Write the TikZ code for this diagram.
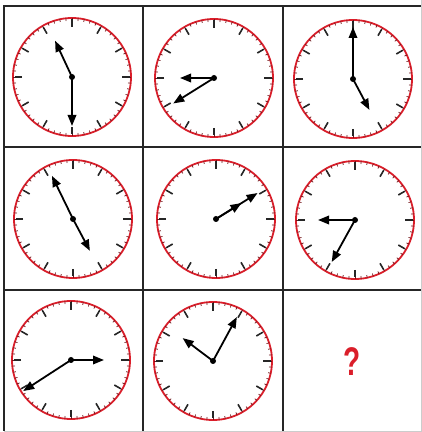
\documentclass[tikz,border=0pt]{standalone}
\usepackage{fontspec}
\setmainfont{Liberation Sans}
\usepackage{xcolor}
\usepackage{tikz}
\usetikzlibrary{arrows.meta}

\definecolor{rimred}{RGB}{218,30,42}
\definecolor{tickred}{RGB}{110,20,25}

\begin{document}
\begin{tikzpicture}[
  x=1pt, y=1pt,
  grid/.style={line width=2pt, black!85},
  faint/.style={line width=0.5pt, gray!40},
  rim/.style={line width=1.8pt, rimred},
  minor/.style={line width=0.7pt, tickred},
  major/.style={line width=1.6pt, black!85},
  hand/.style={line width=1.8pt, -{Triangle[length=11pt,width=8.5pt]}},
  qmark/.style={font=\fontsize{40}{40}\selectfont\bfseries, text=rimred},
  pics/clockface/.style n args={4}{code={
    \draw[rim] (0,0) circle (59);
    \foreach \a in {0,6,...,354}
      \draw[minor] (\a:56.3) -- (\a:59);
    \foreach \a in {0,30,...,330}
      \draw[major] (\a:50) -- (\a:57.5);
    \draw[hand] (0,0) -- (#1:#2);
    \draw[hand] (0,0) -- (#3:#4);
    \fill (0,0) circle (3);
  }},
]

\useasboundingbox (0,0) rectangle (422,432);

%% --- Grid ---
\draw[faint] (421,432) -- (421,1) -- (4,1);
\draw[grid] (4,1) -- (4,426) -- (421,426);
\draw[grid] (143,1) -- (143,426);
\draw[grid] (283,1) -- (283,426);
\draw[grid] (4,285) -- (421,285);
\draw[grid] (4,142) -- (421,142);

%% --- Clocks (hour angle, hour length, minute angle, minute length) ---
\pic at (72,355)  {clockface={115}{40}{270}{49}};
\pic at (214,354) {clockface={180}{34}{212}{48}};
\pic at (353,353) {clockface={-62}{35}{90}{52}};

\pic at (73,213)  {clockface={-62}{36}{116}{48}};
\pic at (216,213) {clockface={32}{30}{32}{49}};
\pic at (355,212) {clockface={180}{37}{241}{48}};

\pic at (71,72)   {clockface={0}{33}{213}{57}};
\pic at (213,71)  {clockface={143}{38}{61.5}{50}};

%% --- Missing clock ---
\node[qmark] (missing) at (352,70) {\scalebox{0.7}[1]{?}};

\end{tikzpicture}
\end{document}
